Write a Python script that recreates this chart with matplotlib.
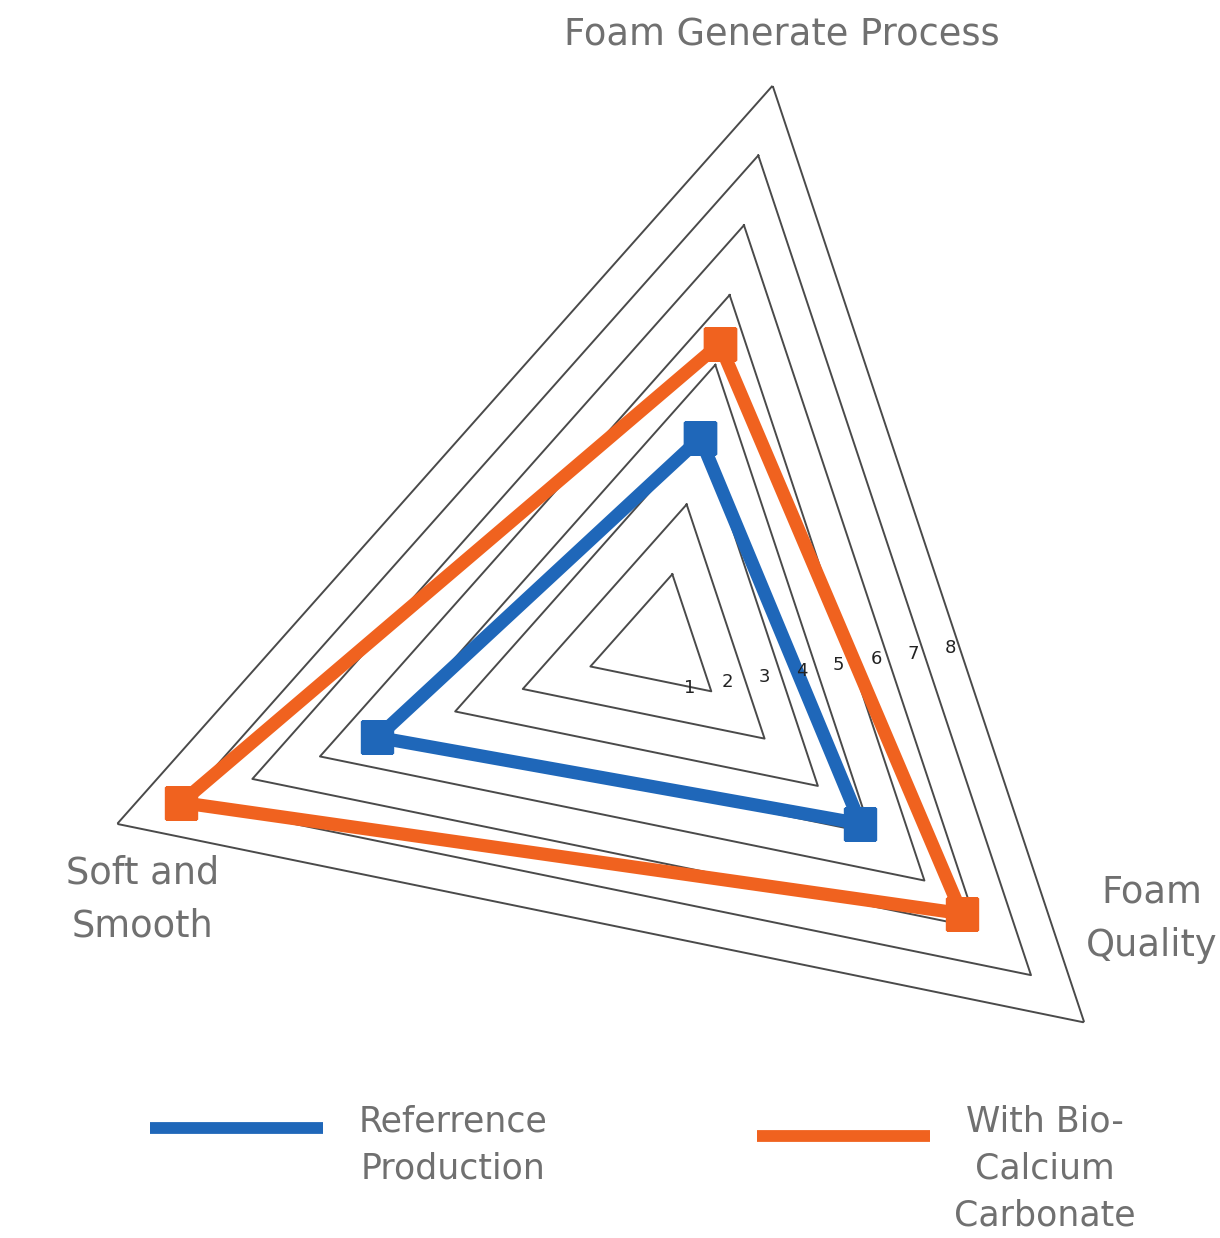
import numpy as np
import matplotlib.pyplot as plt
from matplotlib.lines import Line2D

# --- dati ---
categorie = ["Foam Generate Process", "Foam\nQuality", "Soft and\nSmooth"]
livelli = [1, 2, 3, 4, 5, 6, 7, 8]
serie_nomi = ["Referrence\nProduction", "With Bio-\nCalcium\nCarbonate"]
valori_ref = [2.95, 3.8, 4.15]
valori_bio = [4.3, 5.7, 7.05]
colori = ["#1f67b9", "#f0621f"]

# angoli (polar, senso orario partendo dall'asse in alto)
angoli = np.deg2rad([0, 120, 240])
angoli_chiusi = np.append(angoli, angoli[0])

W, H = 1220, 1238
cx, cy, R = 658, 644, 570  # centro e raggio in pixel

fig = plt.figure(figsize=(W / 100, H / 100), dpi=100)
ax = fig.add_axes(
    [(cx - R) / W, (H - cy - R) / H, 2 * R / W, 2 * R / H], projection="polar"
)
ax.set_theta_offset(np.deg2rad(78.4))
ax.set_theta_direction(-1)
ax.set_ylim(0, 8)
ax.grid(False)
ax.spines["polar"].set_visible(False)
ax.set_xticks([])
ax.set_yticks([])
ax.patch.set_alpha(0)

# griglia triangolare
for liv in livelli:
    ax.plot(angoli_chiusi, [liv] * 4, color="#4a4a4a", lw=1.4, zorder=1)

# serie
for vals, col in zip([valori_ref, valori_bio], colori):
    ax.plot(
        angoli_chiusi,
        np.append(vals, vals[0]),
        color=col,
        lw=9.5,
        marker="s",
        markersize=23,
        solid_joinstyle="round",
        zorder=3,
    )

# etichette radiali 1..8
for i, liv in enumerate(livelli):
    px = 690 + i * 37.2
    py = 688 - i * 5.7
    ax.text(
        (px - (cx - R)) / (2 * R),
        1 - (py - (cy - R)) / (2 * R),
        str(liv),
        transform=ax.transAxes,
        ha="center",
        va="center",
        fontsize=13,
        color="#222222",
    )

# etichette categorie
testo_cat = dict(fontsize=26.5, color="#707070", ha="center", va="center",
                 multialignment="center", linespacing=1.55)
ax.text(np.deg2rad(-0.1), 8.72, categorie[0], **testo_cat)
ax.text(np.deg2rad(107.5), 7.93, categorie[1], **testo_cat)
ax.text(np.deg2rad(232.0), 8.07, categorie[2], **testo_cat)

# legenda (disegnata a mano: testi allineati in alto come nel riferimento)
leg_items = [
    (150, 323, 1128, 453),
    (757, 930, 1136, 1045),
]
for (x0, x1, yl, xt), col, nome in zip(leg_items, colori, serie_nomi):
    fig.add_artist(
        Line2D([x0 / W, x1 / W], [1 - yl / H] * 2, transform=fig.transFigure,
               color=col, lw=8.5, solid_capstyle="butt")
    )
    fig.text(xt / W, 1 - 1105 / H, nome, ha="center", va="top",
             multialignment="center", fontsize=25, color="#707070",
             linespacing=1.47)

fig.savefig("out.png", dpi=100)
